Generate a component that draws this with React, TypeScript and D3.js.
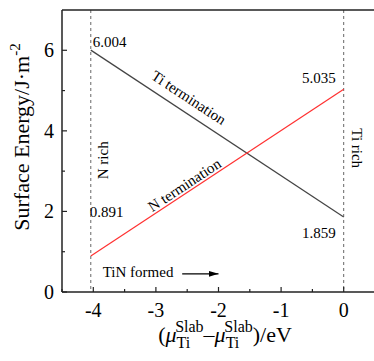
import React from "react";
import * as d3 from "d3";

const xEnds = [-4.04, 0];
const tiTermination = [6.004, 1.859];
const nTermination = [0.891, 5.035];
const xTicks = [-4, -3, -2, -1, 0];
const xMinorTicks = [-4.5, -3.5, -2.5, -1.5, -0.5];
const yTicks = [0, 2, 4, 6];
const yMinorTicks = [1, 3, 5];

const W = 374;
const H = 361;
const margin = { top: 10, right: -1, bottom: 69, left: 62 };
const FONT = '"Liberation Serif", "Times New Roman", Times, "DejaVu Serif", serif';

const App: React.FC = () => {
  const x = d3
    .scaleLinear()
    .domain([-4.5, 0.5])
    .range([margin.left, W - margin.right]);
  const y = d3
    .scaleLinear()
    .domain([0, 7])
    .range([H - margin.bottom, margin.top]);

  const line = d3
    .line<[number, number]>()
    .x((d) => x(d[0]))
    .y((d) => y(d[1]));

  const tiPts = xEnds.map((v, i) => [v, tiTermination[i]] as [number, number]);
  const nPts = xEnds.map((v, i) => [v, nTermination[i]] as [number, number]);

  // angle of the lines in screen space
  const ang =
    (Math.atan2(y(tiTermination[1]) - y(tiTermination[0]), x(xEnds[1]) - x(xEnds[0])) * 180) /
    Math.PI;

  const y0 = y(0);
  const x0 = x(-4.5);

  return (
    <div style={{ position: "absolute", left: 0, top: 0, fontFamily: FONT }}>
      <svg width={W} height={H} style={{ display: "block", background: "#fff", fontFamily: FONT }}>
        {/* dashed limits */}
        {xEnds.map((v, i) => (
          <line
            key={i}
            x1={x(v)}
            x2={x(v)}
            y1={y(7)}
            y2={y0}
            stroke="#666"
            strokeWidth={1}
            strokeDasharray="3 3"
          />
        ))}

        {/* lines */}
        <path d={line(tiPts) || ""} fill="none" stroke="#444" strokeWidth={1.2} />
        <path d={line(nPts) || ""} fill="none" stroke="#ff3030" strokeWidth={1.2} />

        {/* axes frame */}
        <line x1={x0} x2={W} y1={y0} y2={y0} stroke="#222" strokeWidth={1.5} />
        <line x1={x0} x2={x0} y1={y(7)} y2={y0} stroke="#222" strokeWidth={1.5} />
        <line x1={x0} x2={W} y1={y(7)} y2={y(7)} stroke="#222" strokeWidth={1.5} />

        {/* x ticks */}
        {xTicks.map((t) => (
          <g key={t}>
            <line x1={x(t)} x2={x(t)} y1={y0} y2={y0 - 5} stroke="#222" strokeWidth={1.2} />
            <text x={x(t)} y={y0 + 25} textAnchor="middle" fontSize={20}>
              {t === 0 ? "0" : `-${Math.abs(t)}`}
            </text>
          </g>
        ))}
        {xMinorTicks.map((t) => (
          <line key={t} x1={x(t)} x2={x(t)} y1={y0} y2={y0 - 3} stroke="#222" strokeWidth={1.2} />
        ))}

        {/* y ticks */}
        {yTicks.map((t) => (
          <g key={t}>
            <line x1={x0} x2={x0 + 5} y1={y(t)} y2={y(t)} stroke="#222" strokeWidth={1.2} />
            <text x={x0 - 8} y={y(t) + 7} textAnchor="end" fontSize={20}>
              {t}
            </text>
          </g>
        ))}
        {yMinorTicks.map((t) => (
          <line key={t} x1={x0} x2={x0 + 3} y1={y(t)} y2={y(t)} stroke="#222" strokeWidth={1.2} />
        ))}

        {/* value annotations */}
        <text x={x(xEnds[0]) + 2} y={y(tiTermination[0]) - 3} fontSize={15}>
          6.004
        </text>
        <text x={x(xEnds[1]) - 8} y={y(nTermination[1]) - 6} fontSize={15} textAnchor="end">
          5.035
        </text>
        <text x={x(xEnds[0]) - 1} y={y(1.87)} fontSize={15}>
          0.891
        </text>
        <text x={x(xEnds[1]) - 8} y={y(tiTermination[1]) + 21} fontSize={15} textAnchor="end">
          1.859
        </text>

        {/* line labels */}
        <text
          transform={`translate(${x(-2.52)},${y(4.72)}) rotate(${ang})`}
          textAnchor="middle"
          fontSize={15}
        >
          Ti termination
        </text>
        <text
          transform={`translate(${x(-2.5)},${y(2.55)}) rotate(${-ang})`}
          textAnchor="middle"
          fontSize={15}
        >
          N termination
        </text>

        {/* rich labels */}
        <text transform={`translate(${x(-3.77)},${y(3.27)}) rotate(-90)`} textAnchor="middle" fontSize={15}>
          N rich
        </text>
        <text transform={`translate(${x(0.13)},${y(3.57)}) rotate(90)`} textAnchor="middle" fontSize={15}>
          Ti rich
        </text>

        {/* TiN formed arrow */}
        <text x={x(-3.85)} y={y(0.38)} fontSize={15}>
          TiN formed
        </text>
        <defs>
          <marker id="arrowHead" viewBox="0 0 10 6" refX={10} refY={3} markerWidth={10} markerHeight={6} markerUnits="userSpaceOnUse" orient="auto">
            <path d="M0,0 L10,3 L0,6 Z" fill="#000" />
          </marker>
        </defs>
        <line
          x1={x(-2.58)}
          x2={x(-2.0)}
          y1={y(0.45)}
          y2={y(0.45)}
          stroke="#000"
          strokeWidth={1.2}
          markerEnd="url(#arrowHead)"
        />

        {/* axis titles */}
        <text transform={`translate(29,137) rotate(-90)`} textAnchor="middle" fontSize={22}>
          Surface Energy/J·m
          <tspan dy={-9} fontSize={15}>-2</tspan>
        </text>
        <text x={225} y={342} textAnchor="middle" fontSize={22}>
          (<tspan fontStyle="italic">μ</tspan>
          <tspan dy={6} fontSize={16}>Ti</tspan>
          <tspan dx={-15} dy={-16} fontSize={16}>Slab</tspan>
          <tspan dy={10}>–</tspan>
          <tspan fontStyle="italic">μ</tspan>
          <tspan dy={6} fontSize={16}>Ti</tspan>
          <tspan dx={-15} dy={-16} fontSize={16}>Slab</tspan>
          <tspan dy={10}>)/eV</tspan>
        </text>
      </svg>
    </div>
  );
};

export default App;
